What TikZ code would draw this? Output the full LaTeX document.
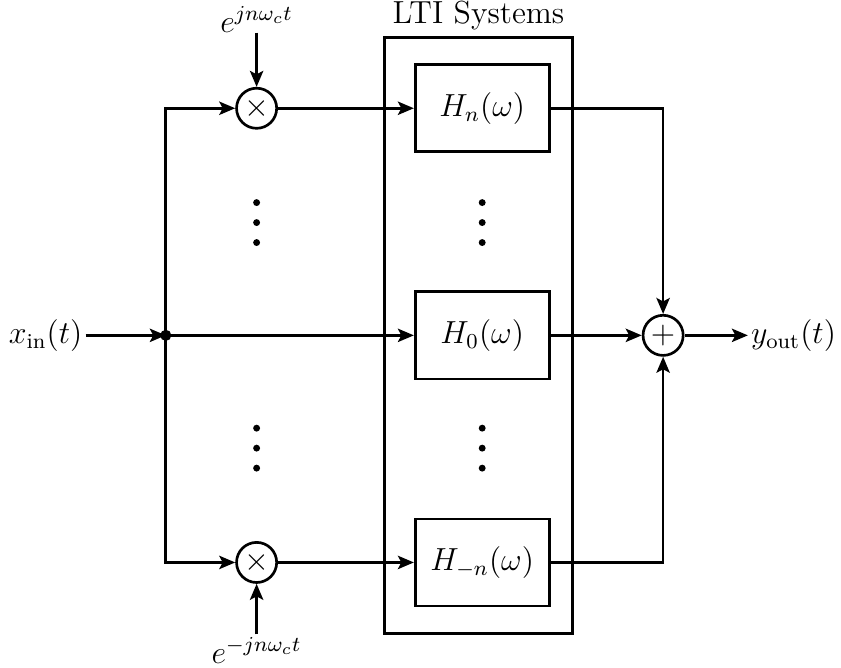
\documentclass[tikz,border=0pt,12pt]{standalone}
\usepackage{amsmath,amssymb}
\usepackage{xcolor}
\usepackage{tikz}
\usetikzlibrary{shapes,arrows,positioning,calc,arrows.meta}

\tikzset{
    sysbox/.style={draw, line width=1pt, minimum width=1.77cm, minimum height=1.15cm},
    mixer/.style={draw, line width=1pt, circle, minimum size=0.53cm, inner sep=0pt},
    sig/.style={line width=1pt, -{Stealth[length=6pt, width=5pt, inset=1.3pt]}},
}

\begin{document}
\begin{tikzpicture}
    \useasboundingbox (-2.19,-4.39) rectangle (8.92,4.43);

    % Input and branch point
    \node[anchor=east, inner sep=1pt] (xin) at (-1.06,0) {$x_{\text{in}}(t)$};
    \coordinate (split) at (0,0);

    % LTI block
    \node[draw, line width=1pt, minimum width=2.48cm, minimum height=7.87cm] (lti) at (4.13,0) {};
    \node[above=0pt of lti, inner sep=2pt] (ltilabel) {LTI Systems};
    \node[sysbox] (hp) at (4.18,3) {$H_n(\omega)$};
    \node[sysbox] (hz) at (4.18,0) {$H_0(\omega)$};
    \node[sysbox] (hm) at (4.18,-3) {$H_{-n}(\omega)$};

    % Modulators
    \node[mixer] (mp) at (1.2,3) {$\times$};
    \node[mixer] (mm) at (1.2,-3) {$\times$};
    \coordinate (cp) at (1.2,4.0);
    \coordinate (cm) at (1.2,-3.95);
    \node[above, inner sep=0pt] (ep) at (cp) {$e^{jn\omega_c t}$};
    \node[below, inner sep=1pt] (em) at (cm) {$e^{-jn\omega_c t}$};

    % Summer and output
    \node[mixer] (sum) at (6.57,0) {$+$};
    \node[anchor=west, inner sep=1pt] (yout) at (7.69,0) {$y_{\text{out}}(t)$};

    % Signal paths
    \draw[sig] (xin) -- (split);
    \draw[sig] (split) |- (mp);
    \draw[sig] (split) |- (mm);
    \draw[sig] (split) -- (hz);
    \draw[sig] (cp) -- (mp);
    \draw[sig] (cm) -- (mm);
    \draw[sig] (mp) -- (hp);
    \draw[sig] (mm) -- (hm);
    \draw[sig] (hp) -| (sum);
    \draw[sig] (hm) -| (sum);
    \draw[sig] (hz) -- (sum);
    \draw[sig] (sum) -- (yout);
    \fill (split) circle (2.1pt);

    % Omitted branches
    \foreach \x in {1.2, 4.18}
        \foreach \y in {1.49, -1.49}
            \foreach \d in {-0.264, 0, 0.264}
                \fill (\x, \y+\d) circle (1.3pt);
\end{tikzpicture}
\end{document}
